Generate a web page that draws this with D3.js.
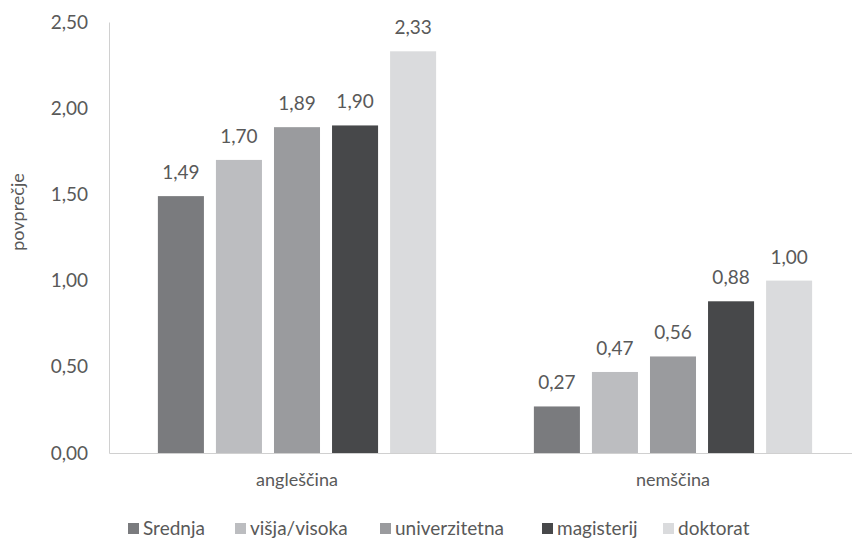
<!DOCTYPE html>
<html>
<head>
<meta charset="utf-8">
<script src="https://cdn.jsdelivr.net/npm/d3@7"></script>
<style>
  body { margin: 0; background: #fff; }
  text { font-family: Lato, "Open Sans", sans-serif; fill: #595959; }
</style>
</head>
<body>
<div class="chart"></div>
<script>
// Data
const categories = ['angleščina', 'nemščina'];
const seriesNames = ['Srednja', 'višja/visoka', 'univerzitetna', 'magisterij', 'doktorat'];
const seriesColors = ['#7a7b7e', '#bcbdc0', '#9a9b9e', '#47484a', '#dadbdd'];
const angValues = [1.49, 1.70, 1.89, 1.90, 2.33];
const nemValues = [0.27, 0.47, 0.56, 0.88, 1.00];
const yTicks = [0, 0.5, 1, 1.5, 2, 2.5];

const width = 852, height = 540;
const margin = {top: 22, right: -9, bottom: 87, left: 109};

let svg = d3.select('.chart').append('svg')
    .attr('width', width)
    .attr('height', height);

// rows for the bars
let rows = [];
categories.forEach((c, ci) => {
    let vals = ci === 0 ? angValues : nemValues;
    seriesNames.forEach((s, si) => rows.push({cat: c, series: s, value: vals[si], i: si}));
});

let x0 = d3.scaleBand()
    .domain(categories)
    .range([margin.left, width - margin.right])
    .paddingInner(0.26)
    .paddingOuter(0.13);

let x1 = d3.scaleBand()
    .domain(seriesNames)
    .range([0, x0.bandwidth()])
    .paddingInner(0.207);

let yScale = d3.scaleLinear()
    .domain([0, 2.5])
    .range([height - margin.bottom, margin.top]);

let fmt = v => d3.format('.2f')(v).replace('.', ',');

// Y axis
let yAxis = d3.axisLeft(yScale)
    .tickValues(yTicks)
    .tickFormat(fmt)
    .tickSize(0)
    .tickPadding(21);

let yG = svg.append('g')
    .attr('transform', 'translate(' + margin.left + ',0)')
    .call(yAxis);
yG.select('.domain').attr('stroke', '#d0d0d0');
yG.selectAll('text').style('font-size', '19px').attr('fill', '#595959');

// Bars
svg.selectAll('rect.bar')
    .data(rows)
    .enter().append('rect')
    .attr('class', 'bar')
    .attr('x', d => x0(d.cat) + x1(d.series))
    .attr('y', d => yScale(d.value))
    .attr('width', x1.bandwidth())
    .attr('height', d => yScale(0) - yScale(d.value))
    .style('fill', d => seriesColors[d.i]);

// Value labels
svg.selectAll('text.val')
    .data(rows)
    .enter().append('text')
    .attr('class', 'val')
    .attr('x', d => x0(d.cat) + x1(d.series) + x1.bandwidth() / 2)
    .attr('y', d => yScale(d.value) - 17)
    .attr('text-anchor', 'middle')
    .style('font-size', '19px')
    .text(d => fmt(d.value));

// X axis
let xAxis = d3.axisBottom(x0).tickSize(0).tickPadding(20);
let xG = svg.append('g')
    .attr('transform', 'translate(0,' + yScale(0) + ')')
    .call(xAxis);
xG.select('.domain').attr('stroke', '#d0d0d0');
xG.selectAll('text').style('font-size', '18px').attr('fill', '#595959');

// Y title
svg.append('text')
    .attr('transform', 'translate(24,212) rotate(-90)')
    .attr('text-anchor', 'middle')
    .style('font-size', '18px')
    .text('povprečje');

// Legend
let legendX = [128, 235, 380, 542, 663];
let lg = svg.append('g').selectAll('g')
    .data(seriesNames)
    .enter().append('g')
    .attr('transform', (d, i) => 'translate(' + legendX[i] + ',529)');
lg.append('rect')
    .attr('x', 0).attr('y', -6)
    .attr('width', 11).attr('height', 11)
    .style('fill', (d, i) => seriesColors[i]);
lg.append('text')
    .attr('x', 15).attr('y', 6)
    .style('font-size', '19px')
    .text(d => d);
</script>
</body>
</html>
